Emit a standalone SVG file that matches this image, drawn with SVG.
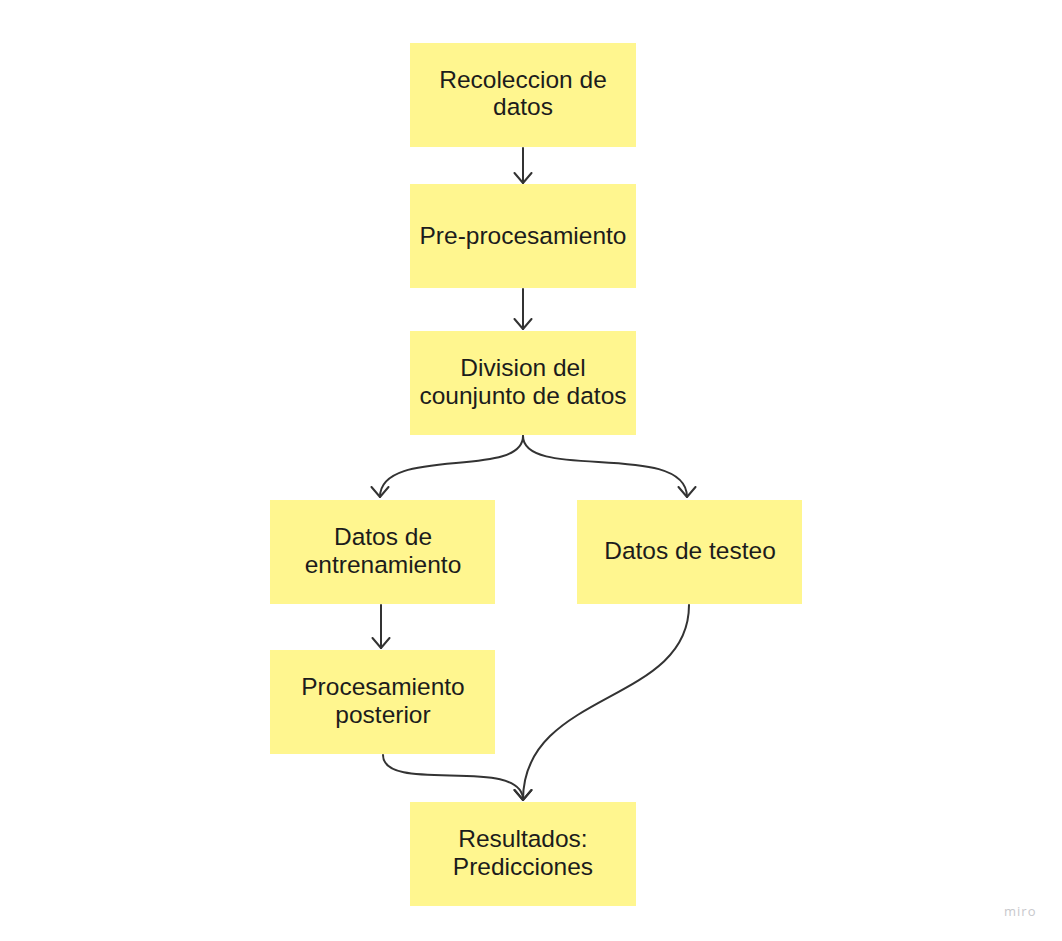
<svg xmlns="http://www.w3.org/2000/svg" width="1062" height="941" viewBox="0 0 1062 941">
  <style>
    .note { fill: #fff68f; }
    .label { font-family: "Liberation Sans", Arial, sans-serif; font-size: 24.5px; fill: #1c1c1c; text-anchor: middle; }
    .edge { fill: none; stroke: #333333; stroke-width: 2; stroke-linecap: round; }
    .brand { font-family: "Open Sans", "Liberation Sans", sans-serif; font-size: 13px; fill: #c8c8cc; letter-spacing: 1px; }
  </style>
  <defs>
    <marker id="arrow" viewBox="0 0 12 20" refX="11" refY="10" markerWidth="12" markerHeight="20" markerUnits="userSpaceOnUse" orient="auto">
      <path d="M1,1.5 L11,10 L1,18.5" fill="none" stroke="#333333" stroke-width="2" stroke-linecap="round" stroke-linejoin="round"/>
    </marker>
  </defs>
  <rect width="1062" height="941" fill="#ffffff"/>

  <g id="connectors">
    <path class="edge" d="M523,148 L523,183" marker-end="url(#arrow)"/>
    <path class="edge" d="M523,289 L523,329" marker-end="url(#arrow)"/>
    <path class="edge" d="M523,436 C523,480 380,445 380,497" marker-end="url(#arrow)"/>
    <path class="edge" d="M523,436 C523,482 687,440 687,497" marker-end="url(#arrow)"/>
    <path class="edge" d="M381,605 L381,648" marker-end="url(#arrow)"/>
    <path class="edge" d="M383,755 C383,795 523,755 523,800" marker-end="url(#arrow)"/>
    <path class="edge" d="M689,605 C689,705 523,690 523,800" marker-end="url(#arrow)"/>
  </g>

  <g id="recoleccion">
    <rect class="note" x="410" y="43" width="226" height="104"/>
    <text class="label" x="523" y="88">Recoleccion de</text>
    <text class="label" x="523" y="115">datos</text>
  </g>
  <g id="preprocesamiento">
    <rect class="note" x="410" y="184" width="226" height="104"/>
    <text class="label" x="523" y="244">Pre-procesamiento</text>
  </g>
  <g id="division">
    <rect class="note" x="410" y="331" width="226" height="104"/>
    <text class="label" x="523" y="376">Division del</text>
    <text class="label" x="523" y="404">counjunto de datos</text>
  </g>
  <g id="entrenamiento">
    <rect class="note" x="270" y="500" width="225" height="104"/>
    <text class="label" x="383" y="545">Datos de</text>
    <text class="label" x="383" y="573">entrenamiento</text>
  </g>
  <g id="testeo">
    <rect class="note" x="577" y="500" width="225" height="104"/>
    <text class="label" x="690" y="559">Datos de testeo</text>
  </g>
  <g id="posterior">
    <rect class="note" x="270" y="650" width="225" height="104"/>
    <text class="label" x="383" y="695">Procesamiento</text>
    <text class="label" x="383" y="723">posterior</text>
  </g>
  <g id="resultados">
    <rect class="note" x="410" y="802" width="226" height="104"/>
    <text class="label" x="523" y="847">Resultados:</text>
    <text class="label" x="523" y="875">Predicciones</text>
  </g>

  <text class="brand" x="1004" y="916">miro</text>
</svg>
